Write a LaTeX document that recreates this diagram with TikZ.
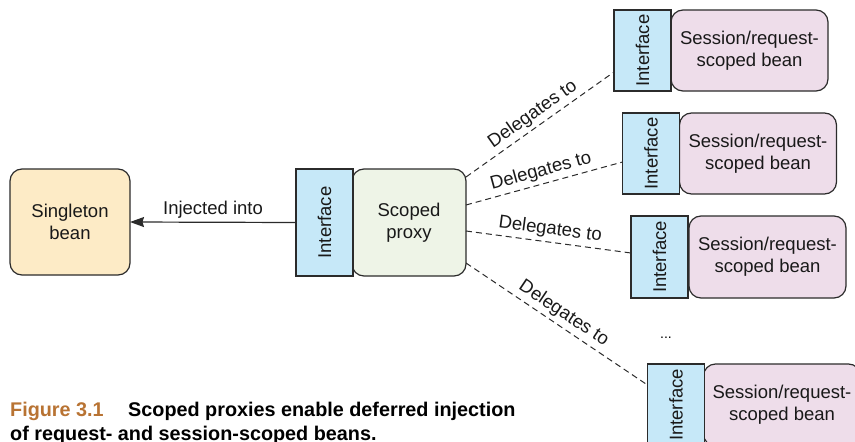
\documentclass[tikz,border=0pt]{standalone}
\usepackage{fontspec}
\setmainfont{Liberation Sans}
\usepackage{xcolor}
\usetikzlibrary{arrows.meta}

\definecolor{singletonfill}{HTML}{FDEBC6}
\definecolor{ifacefill}{HTML}{C6E8F8}
\definecolor{proxyfill}{HTML}{EEF4E7}
\definecolor{beanfill}{HTML}{EEDDEA}
\definecolor{figcolor}{HTML}{B87333}
\definecolor{edgecolor}{HTML}{2B2B2B}

\begin{document}
\begin{tikzpicture}[x=1pt, y=-1pt,
  paths/.style={-{Stealth[length=14pt, width=10pt, inset=1.5pt]}, line width=1.2pt, draw=edgecolor},
  delegate/.style={dash pattern=on 6pt off 4pt, line width=1pt, draw=edgecolor},
  txt/.style={font=\fontsize{18.5}{22}\selectfont, text=black!90},
  box/.style={txt, draw=edgecolor, line width=1.2pt, align=center,
    inner sep=0pt, outer sep=0pt, rounded corners=12pt},
  iface/.style={draw=edgecolor, line width=1.2pt, fill=ifacefill,
    inner sep=0pt, outer sep=0pt, minimum width=57pt},
  bean/.style={box, fill=beanfill, minimum width=157pt},
  caption/.style={anchor=base west, inner sep=0pt,
    font=\fontsize{19.8}{24}\selectfont\bfseries}]

 \useasboundingbox (0,0) rectangle (855,442);

 % left side
 \node[box, fill=singletonfill, minimum width=120pt, minimum height=106pt]
     (singleton) at (70,222) {Singleton\\bean};

 \node[box, fill=proxyfill, minimum width=114pt, minimum height=107pt]
     (proxy) at (409,222.5) {Scoped\\proxy};
 \node[iface, minimum height=107pt] (iface_0) at (324.5,222.5) {};
 \node[txt, rotate=90] (iface_0_text) at (iface_0) {Interface};

 % right side
 \node[bean, minimum height=81pt] (bean_1) at (749.5,50.5) {Session/request-\\scoped bean};
 \node[iface, minimum height=81pt] (iface_1) at (642.5,50.5) {};
 \node[txt, rotate=90] (iface_1_text) at (iface_1) {Interface};

 \node[bean, minimum height=81pt] (bean_2) at (758,153.5) {Session/request-\\scoped bean};
 \node[iface, minimum height=81pt] (iface_2) at (651,153.5) {};
 \node[txt, rotate=90] (iface_2_text) at (iface_2) {Interface};

 \node[bean, minimum height=82pt] (bean_3) at (767.5,257) {Session/request-\\scoped bean};
 \node[iface, minimum height=82pt] (iface_3) at (659.5,257) {};
 \node[txt, rotate=90] (iface_3_text) at (iface_3) {Interface};

 \node[bean, minimum height=82pt] (bean_4) at (782,405) {Session/request-\\scoped bean};
 \node[iface, minimum height=82pt] (iface_4) at (676,405) {};
 \node[txt, rotate=90] (iface_4_text) at (iface_4) {Interface};

 \node[font=\fontsize{14}{16}\selectfont, anchor=base] (dots) at (666,338) {...};

 % connectors
 \draw[paths] (iface_0.west) -- (singleton.east)
     node[txt, midway, above] {Injected into};

 \draw[delegate] ([yshift=45.5pt]proxy.east) -- ([yshift=-21.5pt]iface_1.west)
     node[txt, midway, above, sloped] {Delegates to};
 \draw[delegate] ([yshift=17.5pt]proxy.east) -- ([yshift=-8.5pt]iface_2.west)
     node[txt, midway, above, sloped] {Delegates to};
 \draw[delegate] ([yshift=-8.5pt]proxy.east) -- ([yshift=4pt]iface_3.west)
     node[txt, midway, above, sloped] {Delegates to};
 \draw[delegate] ([yshift=-40.5pt]proxy.east) -- ([yshift=20pt]iface_4.west)
     node[txt, midway, above, sloped] {Delegates to};

 % caption
 \node[caption, text=figcolor] (fig_num) at (10,416) {Figure 3.1};
 \node[caption] (fig_line_1) at (128,416) {Scoped proxies enable deferred injection};
 \node[caption] (fig_line_2) at (10,440) {of request- and session-scoped beans.};

\end{tikzpicture}
\end{document}
